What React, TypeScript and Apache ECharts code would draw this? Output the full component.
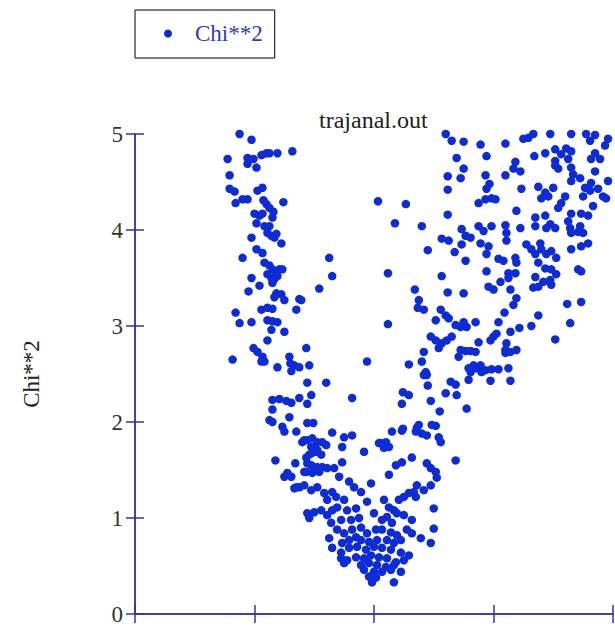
import React, { useEffect, useRef } from "react";
import * as echarts from "echarts";

// Chi**2 per frame, read along each arm of the distribution.
const leftArm: number[][] = [
  [105, 5.0], [117, 4.94], [93, 4.74], [113, 4.75], [113, 4.69], [122, 4.65], [119, 4.74], [127, 4.78],
  [132, 4.8], [135, 4.8], [143, 4.8], [158, 4.82], [95, 4.57], [95, 4.43], [100, 4.4], [101, 4.28],
  [108, 4.32], [113, 4.32], [123, 4.41], [128, 4.44], [129, 4.31], [132, 4.27], [135, 4.23], [139, 4.19],
  [149, 4.29], [120, 4.17], [122, 4.07], [125, 4.15], [128, 4.17], [130, 4.04], [135, 4.04], [138, 4.13],
  [133, 3.97], [137, 3.94], [140, 3.92], [142, 3.96], [147, 3.86], [117, 3.92], [122, 3.8], [128, 3.76],
  [108, 3.71], [130, 3.66], [135, 3.63], [138, 3.59], [142, 3.55], [145, 3.59], [148, 3.59], [133, 3.54],
  [137, 3.5], [140, 3.49], [143, 3.52], [138, 3.45], [117, 3.5], [125, 3.42], [114, 3.36], [142, 3.34],
  [147, 3.33], [140, 3.3], [150, 3.27], [165, 3.28], [101, 3.14], [105, 3.03], [117, 3.04], [127, 3.17],
  [133, 3.19], [138, 3.18], [162, 3.17], [133, 3.06], [138, 3.05], [143, 3.04], [137, 2.96], [150, 2.94],
  [133, 2.85], [119, 2.77], [123, 2.73], [128, 2.68], [127, 2.63], [130, 2.63], [98, 2.65], [143, 2.57],
  [155, 2.68], [156, 2.61], [160, 2.59], [165, 2.57], [157, 2.53], [175, 2.59], [172, 2.77], [173, 2.41],
  [192, 2.41], [177, 2.28], [165, 2.25], [173, 2.19], [138, 2.23], [145, 2.24], [152, 2.22], [157, 2.2],
  [138, 2.13], [135, 2.02], [138, 2.0], [155, 2.05], [148, 1.95], [150, 1.9], [162, 1.9], [173, 1.99],
  [179, 1.99], [198, 1.89], [170, 1.81], [178, 1.83], [188, 1.79], [177, 1.74], [183, 1.71], [178, 1.68],
  [172, 1.63], [141, 1.6], [161, 1.57], [177, 1.55], [183, 1.53], [193, 1.52], [200, 1.52], [153, 1.47],
  [150, 1.43], [157, 1.43], [162, 1.32], [170, 1.48], [195, 3.71], [198, 3.52], [185, 3.39], [167, 3.27],
];

const valleyFloor: number[][] = [
  [173, 1.81], [183, 1.79], [210, 1.84], [218, 1.86], [208, 1.74], [182, 1.69], [175, 1.66], [187, 1.66],
  [192, 1.76], [247, 1.78], [252, 1.79], [255, 1.74], [250, 1.73], [230, 1.69], [258, 1.9], [268, 1.91],
  [282, 1.9], [288, 1.88], [293, 1.86], [305, 1.84], [307, 1.79], [173, 1.57], [188, 1.53], [208, 1.58],
  [172, 1.48], [178, 1.47], [185, 1.48], [205, 1.43], [215, 1.38], [220, 1.32], [227, 1.27], [237, 1.36],
  [255, 1.45], [262, 1.55], [268, 1.58], [278, 1.63], [293, 1.57], [297, 1.52], [302, 1.48], [303, 1.42],
  [297, 1.34], [290, 1.29], [283, 1.34], [280, 1.27], [275, 1.26], [270, 1.22], [265, 1.19], [282, 1.22],
  [322, 1.6], [160, 1.31], [165, 1.32], [170, 1.34], [177, 1.29], [183, 1.32], [190, 1.26], [198, 1.27],
  [202, 1.22], [193, 1.19], [210, 1.19], [203, 1.11], [198, 1.08], [187, 1.08], [180, 1.06], [173, 1.05],
  [175, 1.0], [193, 1.03], [213, 1.08], [222, 1.1], [233, 1.17], [240, 1.05], [225, 1.0], [217, 0.98],
  [207, 0.98], [197, 0.95], [250, 1.19], [255, 1.11], [260, 1.08], [263, 1.05], [248, 0.98], [253, 1.01],
  [258, 0.95], [270, 1.03], [278, 0.98], [273, 0.88], [278, 0.84], [287, 0.79], [297, 0.74], [300, 1.1],
  [300, 0.89], [203, 0.88], [210, 0.84], [218, 0.88], [227, 0.9], [233, 0.84], [242, 0.88], [248, 0.88],
  [257, 0.85], [263, 0.82], [267, 0.77], [260, 0.74], [253, 0.77], [243, 0.77], [235, 0.75], [227, 0.77],
  [222, 0.8], [215, 0.77], [208, 0.74], [198, 0.69], [207, 0.64], [215, 0.69], [223, 0.7], [232, 0.67],
  [240, 0.7], [248, 0.69], [257, 0.67], [267, 0.64], [275, 0.61], [270, 0.56], [262, 0.54], [253, 0.58],
  [245, 0.59], [237, 0.61], [230, 0.58], [222, 0.59], [213, 0.56], [207, 0.58], [210, 0.53], [227, 0.51],
  [235, 0.53], [243, 0.51], [252, 0.49], [260, 0.51], [267, 0.44], [230, 0.46], [240, 0.44], [248, 0.44],
  [257, 0.46], [242, 0.38], [235, 0.39], [260, 0.33], [238, 0.33], [195, 0.79],
];

const valleyRim: number[][] = [
  [233, 2.63], [275, 2.6], [288, 2.63], [292, 2.52], [293, 2.49], [294, 2.38], [297, 2.22], [306, 2.11],
  [317, 2.42], [322, 2.39], [312, 2.3], [323, 2.28], [333, 2.14], [337, 2.52], [342, 2.56], [347, 2.59],
  [352, 2.54], [358, 2.55], [365, 2.55], [375, 2.56], [357, 2.43], [377, 2.43], [335, 2.44], [218, 2.25],
  [269, 2.31], [275, 2.28], [268, 2.19], [245, 1.78], [269, 1.93], [283, 1.94], [298, 1.97], [302, 1.96],
  [168, 1.79], [254, 3.55], [281, 3.38], [285, 3.27], [284, 3.19], [290, 3.17], [254, 3.02], [290, 2.73],
  [290, 2.49], [285, 1.97], [244, 4.3], [272, 4.27], [261, 4.07], [288, 4.04], [335, 2.56], [340, 2.59],
  [348, 2.52],
];

const rightArm: number[][] = [
  [312, 5.0], [318, 4.93], [330, 4.92], [347, 4.89], [353, 4.77], [372, 4.9], [390, 4.95], [395, 4.96],
  [400, 5.0], [417, 5.0], [438, 5.0], [453, 5.0], [462, 4.99], [475, 4.95], [457, 4.93], [472, 4.88],
  [323, 4.75], [330, 4.64], [327, 4.54], [314, 4.56], [314, 4.42], [352, 4.57], [356, 4.48], [353, 4.43],
  [372, 4.57], [382, 4.71], [380, 4.64], [387, 4.61], [388, 4.43], [401, 4.77], [412, 4.8], [422, 4.84],
  [428, 4.79], [433, 4.85], [438, 4.82], [435, 4.74], [422, 4.72], [425, 4.64], [422, 4.67], [438, 4.65],
  [440, 4.58], [438, 4.51], [447, 4.54], [452, 4.44], [458, 4.74], [467, 4.74], [462, 4.61], [462, 4.8],
  [405, 4.45], [412, 4.39], [408, 4.33], [420, 4.44], [415, 4.35], [432, 4.35], [428, 4.28], [425, 4.23],
  [450, 4.35], [457, 4.41], [465, 4.43], [470, 4.35], [473, 4.33], [475, 4.51], [458, 4.49], [460, 4.25],
  [448, 4.17], [455, 4.15], [438, 4.17], [435, 4.09], [447, 4.04], [450, 3.97], [345, 4.28], [352, 4.32],
  [358, 4.33], [362, 4.32], [383, 4.2], [314, 4.16], [328, 4.01], [332, 3.94], [337, 3.92], [345, 4.04],
  [350, 3.99], [358, 4.04], [372, 4.05], [373, 3.97], [387, 4.02], [402, 4.13], [402, 4.04], [412, 4.15],
  [417, 4.06], [422, 4.02], [413, 4.02], [437, 4.02], [438, 3.97], [445, 3.98], [308, 3.91], [315, 3.89],
  [321, 3.77], [328, 3.85], [332, 3.68], [347, 3.86], [355, 3.83], [353, 3.75], [373, 3.89], [365, 3.7],
  [370, 3.68], [382, 3.71], [383, 3.66], [393, 3.85], [398, 3.8], [402, 3.75], [407, 3.86], [408, 3.8],
  [413, 3.75], [418, 3.78], [423, 3.71], [405, 3.66], [412, 3.6], [418, 3.59], [438, 3.8], [448, 3.83],
  [455, 3.86], [445, 3.59], [448, 3.57], [353, 3.57], [375, 3.55], [382, 3.55], [308, 3.52], [423, 3.54],
  [294, 3.79],
];

const rightMiddle: number[][] = [
  [355, 3.41], [360, 3.38], [367, 3.46], [375, 3.5], [402, 3.51], [410, 3.46], [417, 3.48], [418, 3.43],
  [400, 3.4], [405, 3.41], [377, 3.38], [383, 3.29], [380, 3.22], [448, 3.25], [434, 3.23], [437, 3.03],
  [405, 3.11], [398, 3.0], [386, 2.98], [377, 2.94], [422, 2.86], [314, 3.35], [330, 3.34], [307, 3.17],
  [312, 3.11], [315, 3.08], [302, 3.06], [322, 3.01], [327, 2.99], [330, 3.04], [333, 2.99], [342, 3.04],
  [365, 3.04], [371, 3.14], [297, 2.89], [302, 2.85], [305, 2.77], [308, 2.82], [313, 2.85], [318, 2.89],
  [327, 2.75], [325, 2.68], [332, 2.74], [337, 2.74], [342, 2.73], [345, 2.83], [357, 2.85], [360, 2.89],
  [363, 2.92], [373, 2.82], [372, 2.75], [372, 2.72], [377, 2.73], [383, 2.75],
];

const xTicks = { min: 0, max: 480, interval: 120 };
const yTicks = { min: 0, max: 5, interval: 1 };

const points: number[][] = [...leftArm, ...valleyFloor, ...valleyRim, ...rightArm, ...rightMiddle];

const SERIF = "Liberation Serif";
const AXIS_COLOR = "#3535a6";
const MARK_COLOR = "#0d2bd6";

export default function App() {
  const ref = useRef<HTMLDivElement>(null);

  useEffect(() => {
    if (!ref.current) return;
    const chart = echarts.init(ref.current, undefined, { renderer: "svg" });

    const frameAxis = {
      axisLine: { show: true, lineStyle: { color: AXIS_COLOR, width: 1.5 } },
      axisTick: { show: true, inside: true, length: 9, lineStyle: { color: AXIS_COLOR, width: 1.5 } },
      splitLine: { show: false },
    };

    chart.setOption({
      animation: false,
      backgroundColor: "#ffffff",
      textStyle: { fontFamily: SERIF },
      title: {
        text: "trajanal.out",
        left: 319,
        top: 108,
        padding: 0,
        textStyle: { fontFamily: SERIF, fontSize: 24, fontWeight: "normal", color: "#222222" },
      },
      legend: {
        left: 135,
        top: 10,
        orient: "horizontal",
        padding: [12, 12, 13, 29],
        borderColor: "#000000",
        borderWidth: 1,
        icon: "circle",
        itemWidth: 44,
        itemHeight: 8,
        itemGap: 5,
        textStyle: { fontFamily: SERIF, fontSize: 23, color: "#2a3bc8" },
        data: ["Chi**2"],
      },
      grid: { left: 135, right: 2, top: 134, bottom: 13, containLabel: false },
      xAxis: [
        {
          type: "value",
          position: "bottom",
          ...xTicks,
          ...frameAxis,
          axisLabel: { show: false },
        },
        {
          type: "value",
          position: "top",
          ...xTicks,
          ...frameAxis,
          axisLabel: { show: false },
        },
      ],
      yAxis: [
        {
          type: "value",
          position: "left",
          ...yTicks,
          ...frameAxis,
          name: "Chi**2",
          nameLocation: "middle",
          nameGap: 92,
          nameRotate: 90,
          nameTextStyle: { fontFamily: SERIF, fontSize: 23, color: "#222222" },
          axisLabel: { show: true, margin: 12, fontFamily: SERIF, fontSize: 23, color: "#333333" },
        },
        {
          type: "value",
          position: "right",
          ...yTicks,
          ...frameAxis,
          axisLabel: { show: false },
        },
      ],
      series: [
        {
          name: "Chi**2",
          type: "scatter",
          xAxisIndex: 0,
          yAxisIndex: 0,
          symbol: "circle",
          symbolSize: 8.5,
          clip: false,
          itemStyle: { color: MARK_COLOR, opacity: 1 },
          data: points,
        },
      ],
    });

    return () => chart.dispose();
  }, []);

  return (
    <div
      ref={ref}
      style={{ position: "fixed", left: 0, top: 0, width: 615, height: 627, background: "#fff" }}
    />
  );
}
